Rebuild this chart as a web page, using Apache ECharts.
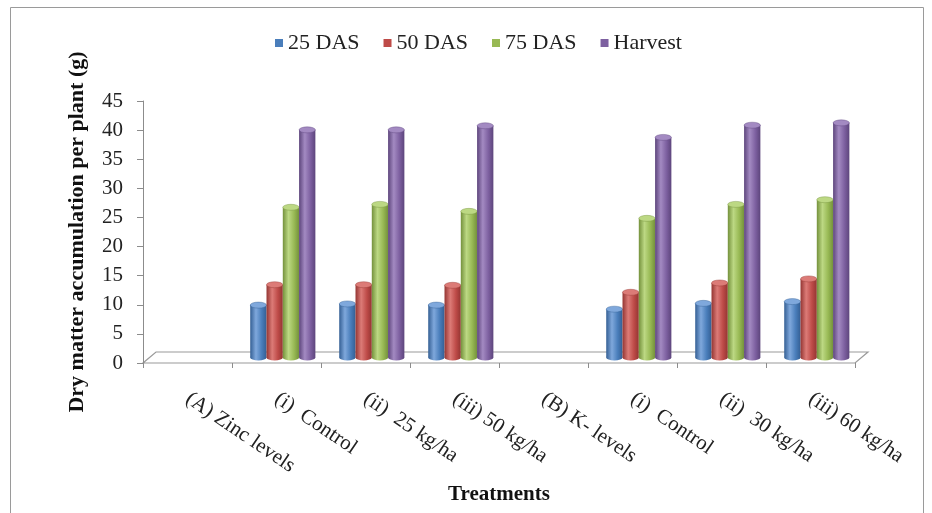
<!DOCTYPE html>
<html>
<head>
<meta charset="utf-8">
<script src="https://cdn.jsdelivr.net/npm/echarts@6/dist/echarts.min.js"></script>
<style>html,body{margin:0;padding:0;background:#fff}#c{width:932px;height:513px}</style>
</head>
<body>
<div id="c"></div>
<script>
const categories = ['(A) Zinc levels', '(i)  Control', '(ii)  25 kg/ha', '(iii) 50 kg/ha', '(B) K- levels', '(i)  Control', '(ii)  30 kg/ha', '(iii) 60 kg/ha'];
const seriesNames = ['25 DAS', '50 DAS', '75 DAS', 'Harvest'];
const das25 = [null, 9.0, 9.2, 9.0, null, 8.3, 9.3, 9.6];
const das50 = [null, 12.5, 12.5, 12.4, null, 11.2, 12.8, 13.5];
const das75 = [null, 25.8, 26.3, 25.1, null, 23.9, 26.3, 27.1];
const harvest = [null, 39.1, 39.1, 39.8, null, 37.8, 39.9, 40.3];
const yTicks = { min: 0, max: 45, interval: 5 };

const values = [das25, das50, das75, harvest];
const colors = [
  { base: '#4A7EBB', light: '#7FA8DC', dark: '#345F94' },
  { base: '#BE4B48', light: '#DC7B77', dark: '#943532' },
  { base: '#98B954', light: '#BCD883', dark: '#74913C' },
  { base: '#7D60A0', light: '#A38AC2', dark: '#5D457C' }
];

const W = 932, H = 513;
const G = { left: 143, right: 77, top: 101, bottom: 150 };
const DX = 6.3, DY = 5.5; // depth offset of the bar plane
const FDX = 13, FDY = 11; // floor depth
const serif = 'Liberation Serif, Times New Roman, serif';

function grad(c) {
  return new echarts.graphic.LinearGradient(0, 0, 1, 0, [
    { offset: 0, color: c.dark },
    { offset: 0.35, color: c.light },
    { offset: 0.7, color: c.base },
    { offset: 1, color: c.dark }
  ]);
}

function renderCyl(params, api) {
  const s = params.seriesIndex;
  const c = colors[s];
  const i = api.value(0), v = api.value(1);
  const base = api.coord([i, 0]);
  const top = api.coord([i, v]);
  const band = api.size([1, 0])[0];
  const bw = band * 0.183;
  const left = base[0] - 2 * bw + s * bw;
  const ry = 3;
  return {
    type: 'group',
    children: [
      { type: 'rect', shape: { x: left, y: top[1], width: bw, height: base[1] - top[1] }, style: { fill: grad(c) } },
      { type: 'circle', x: left + bw / 2, y: base[1], scaleY: ry / (bw / 2), shape: { cx: 0, cy: 0, r: bw / 2 }, style: { fill: grad(c) } },
      { type: 'circle', x: left + bw / 2, y: top[1], scaleY: ry / (bw / 2), shape: { cx: 0, cy: 0, r: bw / 2 }, style: { fill: c.light, stroke: c.dark, lineWidth: 0.6 } }
    ]
  };
}

const x0 = G.left, x1 = W - G.right, yb = H - G.bottom;

const option = {
  backgroundColor: '#fff',
  animation: false,
  legend: {
    left: 270, top: 27,
    icon: 'rect', itemWidth: 8, itemHeight: 8, itemGap: 24,
    textStyle: { fontFamily: serif, fontSize: 22, color: '#222' },
    data: seriesNames
  },
  grid: [
    { left: G.left, right: G.right, top: G.top, bottom: G.bottom, containLabel: false, outerBoundsMode: 'none' },
    { left: G.left + DX, right: G.right - DX, top: G.top - DY, bottom: G.bottom + DY, containLabel: false, outerBoundsMode: 'none' }
  ],
  xAxis: [
    {
      type: 'category', gridIndex: 0, data: categories,
      axisLine: { show: false },
      axisTick: { show: true, length: 5, lineStyle: { color: '#8c8c8c' } },
      axisLabel: { interval: 0, rotate: -34, margin: 34, fontFamily: serif, fontSize: 21, color: '#222' },
      name: 'Treatments', nameLocation: 'middle', nameGap: 121,
      nameTextStyle: { fontFamily: serif, fontSize: 21, fontWeight: 'bold', color: '#111' }
    },
    { type: 'category', gridIndex: 1, data: categories, show: false }
  ],
  yAxis: [
    {
      type: 'value', gridIndex: 0, min: yTicks.min, max: yTicks.max, interval: yTicks.interval,
      axisLine: { show: true, lineStyle: { color: '#8c8c8c' } },
      axisTick: { show: true, length: 6, lineStyle: { color: '#8c8c8c' } },
      splitLine: { show: false },
      axisLabel: { margin: 20, fontFamily: serif, fontSize: 21, color: '#222' },
      name: 'Dry matter accumulation per plant (g)', nameLocation: 'middle', nameRotate: 90, nameGap: 55,
      nameTextStyle: { fontFamily: serif, fontSize: 22, fontWeight: 'bold', color: '#111' }
    },
    { type: 'value', gridIndex: 1, min: yTicks.min, max: yTicks.max, interval: yTicks.interval, show: false }
  ],
  graphic: [
    { type: 'rect', shape: { x: 10.5, y: 7.5, width: 913, height: 530 }, style: { fill: 'none', stroke: '#9a9a9a', lineWidth: 1 }, z: -10 },
    { type: 'polygon', shape: { points: [[x0, yb], [x1, yb], [x1 + FDX, yb - FDY], [x0 + FDX, yb - FDY]] }, style: { fill: '#fff', stroke: '#9a9a9a', lineWidth: 1.2 }, z: -5 }
  ],
  series: seriesNames.map((name, s) => ({
    name: name,
    type: 'custom',
    xAxisIndex: 1, yAxisIndex: 1,
    itemStyle: { color: colors[s].base },
    renderItem: renderCyl,
    encode: { x: 0, y: 1 },
    data: values[s].map((v, i) => v == null ? null : [i, v]).filter(d => d)
  }))
};

const chart = echarts.init(document.getElementById('c'));
chart.setOption(option);
</script>
</body>
</html>
